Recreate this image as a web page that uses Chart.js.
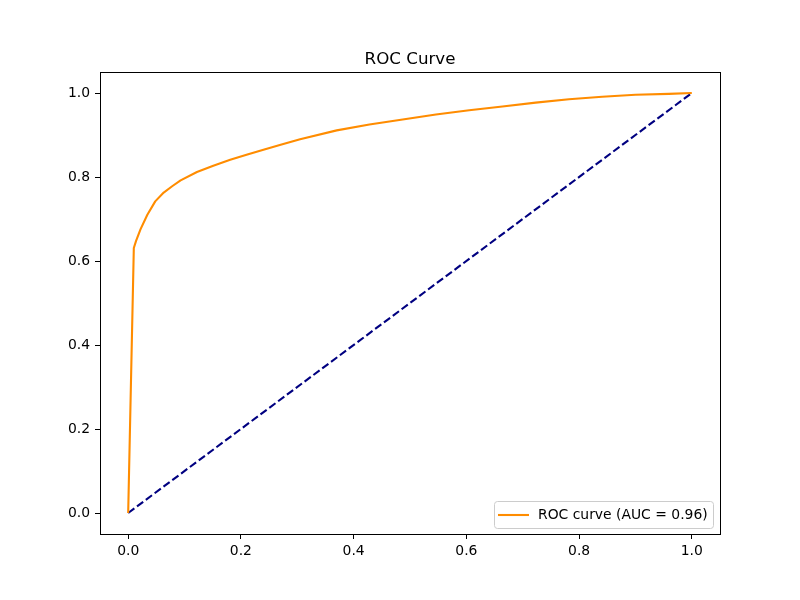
<!DOCTYPE html>
<html>
<head>
<meta charset="utf-8">
<script src="https://cdn.jsdelivr.net/npm/chart.js@4.4.0/dist/chart.umd.min.js"></script>
<style>
  body { margin: 0; background: #fff; }
  #wrap { width: 800px; height: 600px; }
</style>
</head>
<body>
<div id="wrap"><canvas id="rocChart" width="800" height="600"></canvas></div>
<script>
// values
const fpr = [0, 0.010, 0.014, 0.022, 0.034, 0.048, 0.063, 0.078, 0.093, 0.122, 0.151, 0.181, 0.210,
             0.240, 0.269, 0.305, 0.370, 0.428, 0.487, 0.546, 0.605, 0.664, 0.723, 0.782, 0.841, 0.900, 0.959, 1.0];
const tpr = [0, 0.631, 0.648, 0.676, 0.710, 0.742, 0.763, 0.778, 0.792, 0.812, 0.827, 0.841, 0.853,
             0.865, 0.876, 0.890, 0.911, 0.925, 0.937, 0.949, 0.959, 0.968, 0.977, 0.985, 0.991, 0.996, 0.998, 1.0];
const chanceX = [0, 1];
const chanceY = [0, 1];
const xTicks = [0, 0.2, 0.4, 0.6, 0.8, 1.0];
const yTicks = [0, 0.2, 0.4, 0.6, 0.8, 1.0];
const titleText = 'ROC Curve';
const curveLabel = 'ROC curve (AUC = 0.96)';

const FONT = 'DejaVu Sans';
const LW = 2.1;

function toPoints(xs, ys) {
    return xs.map((x, i) => ({ x: x, y: ys[i] }));
}

// frame, title and the in-axes legend, drawn like matplotlib does
const framePlugin = {
    id: 'frame',
    afterDraw(chart) {
        const ctx = chart.ctx;
        const a = chart.chartArea;
        ctx.save();
        ctx.strokeStyle = '#000';
        ctx.lineWidth = 1;
        ctx.strokeRect(Math.round(a.left) + 0.5, Math.round(a.top) + 0.5,
            Math.round(a.right - a.left), Math.round(a.bottom - a.top));

        ctx.fillStyle = '#000';
        ctx.font = '16.7px "' + FONT + '"';
        ctx.textAlign = 'center';
        ctx.textBaseline = 'alphabetic';
        ctx.fillText(titleText, (a.left + a.right) / 2, a.top - 8);

        // legend box lower right
        const bw = 219, bh = 27;
        const bx = a.right - 7 - bw, by = a.bottom - 6 - bh;
        ctx.beginPath();
        ctx.roundRect(bx + 0.5, by + 0.5, bw, bh, 3);
        ctx.fillStyle = 'rgba(255,255,255,0.8)';
        ctx.fill();
        ctx.strokeStyle = '#cccccc';
        ctx.lineWidth = 1;
        ctx.stroke();
        ctx.beginPath();
        ctx.moveTo(bx + 4, by + bh / 2 + 0.5);
        ctx.lineTo(bx + 35, by + bh / 2 + 0.5);
        ctx.strokeStyle = '#ff8c00';
        ctx.lineWidth = LW;
        ctx.stroke();
        ctx.fillStyle = '#000';
        ctx.font = '13.9px "' + FONT + '"';
        ctx.textAlign = 'left';
        ctx.textBaseline = 'middle';
        ctx.fillText(curveLabel, bx + 44, by + bh / 2 + 1);
        ctx.restore();
    }
};

const ctx = document.getElementById('rocChart').getContext('2d');
new Chart(ctx, {
    type: 'line',
    data: {
        datasets: [{
            label: curveLabel,
            data: toPoints(fpr, tpr),
            borderColor: '#ff8c00',
            borderWidth: LW,
            borderJoinStyle: 'round',
            pointRadius: 0,
            tension: 0,
            fill: false
        }, {
            label: 'chance',
            data: toPoints(chanceX, chanceY),
            borderColor: '#000080',
            borderWidth: LW,
            borderDash: [7.7, 3.3],
            pointRadius: 0,
            tension: 0,
            fill: false
        }]
    },
    options: {
        responsive: false,
        animation: false,
        devicePixelRatio: 1,
        layout: { padding: { top: 72, right: 80, left: 0, bottom: 0 } },
        plugins: {
            legend: { display: false },
            title: { display: false },
            tooltip: { enabled: false }
        },
        scales: {
            x: {
                type: 'linear',
                min: -0.05,
                max: 1.05,
                afterBuildTicks: s => { s.ticks = xTicks.map(v => ({ value: v })); },
                afterFit: s => { s.height = 66; },
                grid: { display: true, drawOnChartArea: false, drawTicks: true, tickLength: 5, tickColor: '#000' },
                border: { display: true, color: '#000', width: 1 },
                ticks: {
                    color: '#000',
                    font: { family: FONT, size: 13.9 },
                    padding: 4,
                    maxRotation: 0,
                    callback: v => Number(v).toFixed(1)
                }
            },
            y: {
                type: 'linear',
                min: -0.05,
                max: 1.05,
                afterBuildTicks: s => { s.ticks = yTicks.map(v => ({ value: v })); },
                afterFit: s => { s.width = 100; },
                grid: { display: true, drawOnChartArea: false, drawTicks: true, tickLength: 5, tickColor: '#000' },
                border: { display: true, color: '#000', width: 1 },
                ticks: {
                    color: '#000',
                    font: { family: FONT, size: 13.9 },
                    padding: 5,
                    callback: v => Number(v).toFixed(1)
                }
            }
        }
    },
    plugins: [framePlugin]
});
</script>
</body>
</html>
